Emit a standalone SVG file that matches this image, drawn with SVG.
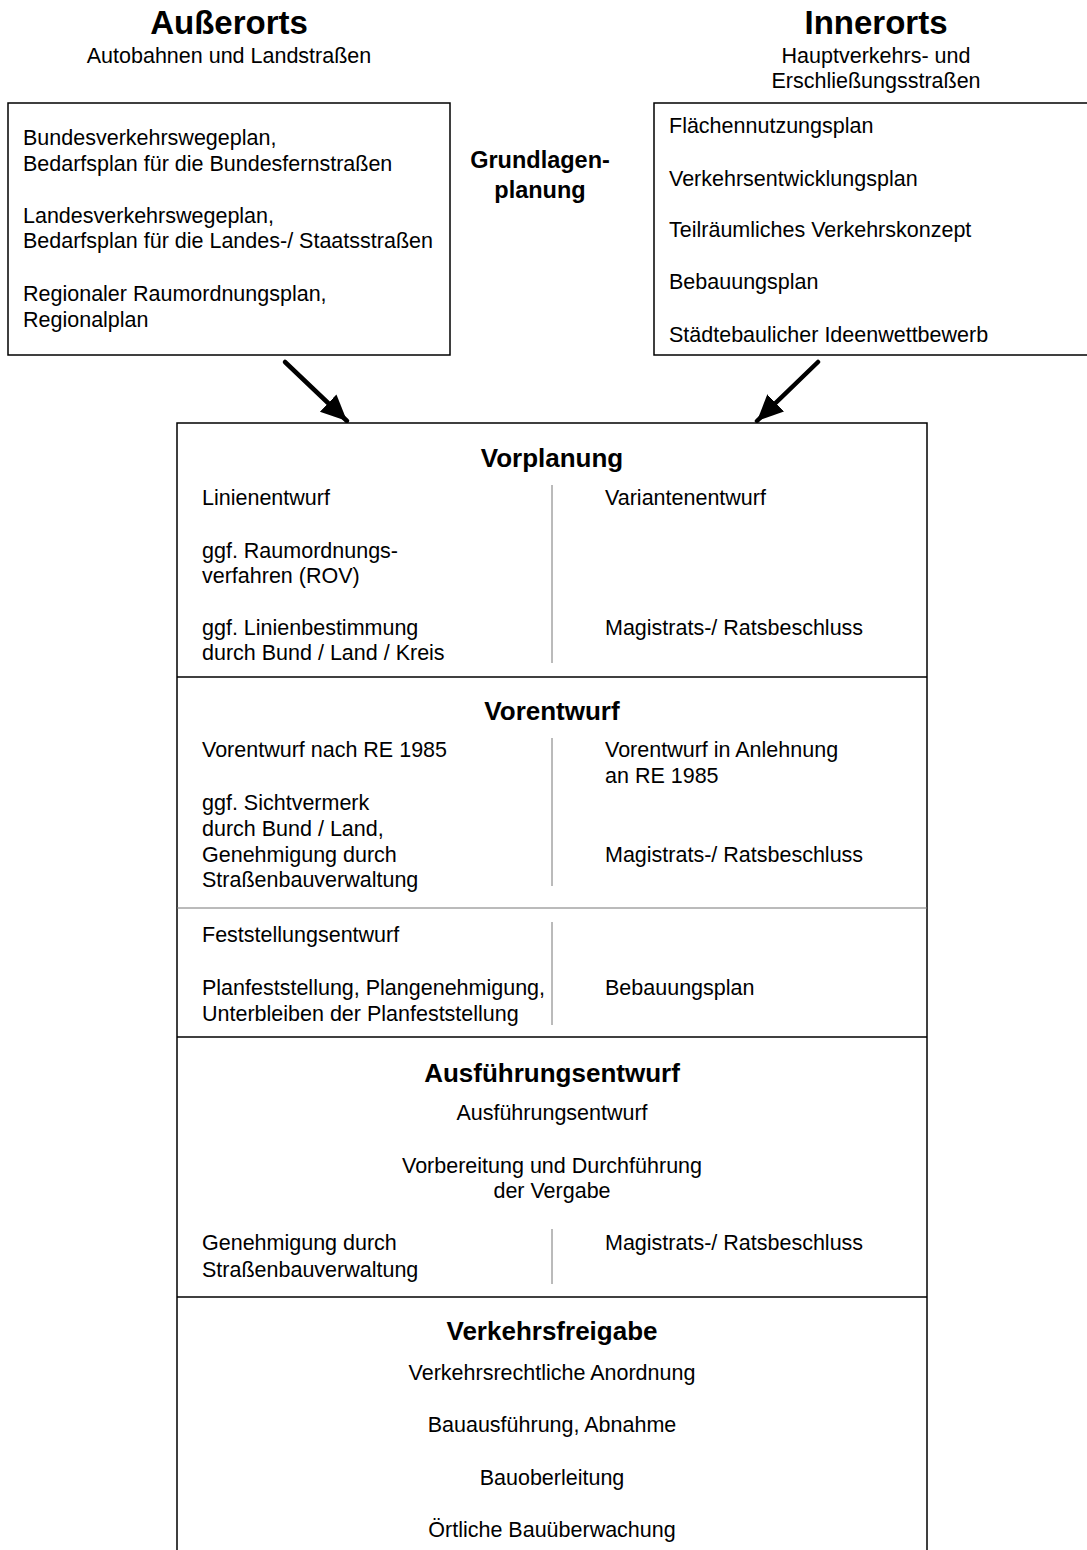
<svg xmlns="http://www.w3.org/2000/svg" width="1087" height="1550" viewBox="0 0 1087 1550">
  <style>
    text { font-family: "Liberation Sans", Arial, sans-serif; fill: #000; }
    .t { font-size: 21.5px; }
    .c { text-anchor: middle; }
    .h1 { font-size: 33px; font-weight: bold; text-anchor: middle; }
    .h2 { font-size: 26px; font-weight: bold; text-anchor: middle; }
    .h3 { font-size: 23.5px; font-weight: bold; text-anchor: middle; }
    .box { fill: #fff; stroke: #000; stroke-width: 1.5; }
    .sep { stroke: #000; stroke-width: 1.5; }
    .thin { stroke: #777; stroke-width: 1; }
    .arrow { stroke: #000; stroke-width: 4.5; fill: none; stroke-linecap: round; }
  </style>
  <defs>
    <marker id="head" markerUnits="userSpaceOnUse" markerWidth="28" markerHeight="26" refX="26" refY="13" orient="auto">
      <path d="M0,1 L26,13 L0,25 Z" fill="#000"/>
    </marker>
  </defs>
  <rect width="1087" height="1550" fill="#fff"/>

  <!-- Column headings -->
  <g id="head-aussen">
    <text class="h1" x="229" y="34">Außerorts</text>
    <text class="t c" x="229" y="63">Autobahnen und Landstraßen</text>
  </g>
  <g id="head-innen">
    <text class="h1" x="876" y="34">Innerorts</text>
    <text class="t c" x="876" y="63">Hauptverkehrs- und</text>
    <text class="t c" x="876" y="88">Erschließungsstraßen</text>
  </g>
  <g id="grundlagen">
    <text class="h3" x="540" y="168">Grundlagen-</text>
    <text class="h3" x="540" y="198">planung</text>
  </g>

  <!-- Basic planning, rural -->
  <g id="box-aussen">
    <rect class="box" x="8" y="103" width="442" height="252"/>
    <text class="t" x="23" y="145">Bundesverkehrswegeplan,</text>
    <text class="t" x="23" y="171">Bedarfsplan für die Bundesfernstraßen</text>
    <text class="t" x="23" y="223">Landesverkehrswegeplan,</text>
    <text class="t" x="23" y="248">Bedarfsplan für die Landes-/ Staatsstraßen</text>
    <text class="t" x="23" y="301">Regionaler Raumordnungsplan,</text>
    <text class="t" x="23" y="327">Regionalplan</text>
  </g>

  <!-- Basic planning, urban -->
  <g id="box-innen">
    <rect class="box" x="654" y="103" width="445" height="252"/>
    <text class="t" x="669" y="133">Flächennutzungsplan</text>
    <text class="t" x="669" y="186">Verkehrsentwicklungsplan</text>
    <text class="t" x="669" y="237">Teilräumliches Verkehrskonzept</text>
    <text class="t" x="669" y="289">Bebauungsplan</text>
    <text class="t" x="669" y="342">Städtebaulicher Ideenwettbewerb</text>
  </g>

  <!-- Connectors -->
  <g id="connectors">
    <line class="arrow" x1="285" y1="362" x2="347" y2="421" marker-end="url(#head)"/>
    <line class="arrow" x1="818" y1="362" x2="757" y2="421" marker-end="url(#head)"/>
  </g>

  <!-- Planning phases -->
  <g id="phases">
    <rect class="box" x="177" y="423" width="750" height="1140"/>
    <line class="sep" x1="177" y1="677" x2="927" y2="677"/>
    <line class="thin" x1="177" y1="908" x2="927" y2="908"/>
    <line class="sep" x1="177" y1="1037" x2="927" y2="1037"/>
    <line class="sep" x1="177" y1="1297" x2="927" y2="1297"/>
  </g>

  <g id="vorplanung">
    <text class="h2" x="552" y="467">Vorplanung</text>
    <line class="thin" x1="552" y1="485" x2="552" y2="663"/>
    <text class="t" x="202" y="505">Linienentwurf</text>
    <text class="t" x="202" y="558">ggf. Raumordnungs-</text>
    <text class="t" x="202" y="583">verfahren (ROV)</text>
    <text class="t" x="202" y="635">ggf. Linienbestimmung</text>
    <text class="t" x="202" y="660">durch Bund / Land / Kreis</text>
    <text class="t" x="605" y="505">Variantenentwurf</text>
    <text class="t" x="605" y="635">Magistrats-/ Ratsbeschluss</text>
  </g>

  <g id="vorentwurf">
    <text class="h2" x="552" y="720">Vorentwurf</text>
    <line class="thin" x1="552" y1="738" x2="552" y2="886"/>
    <text class="t" x="202" y="757">Vorentwurf nach RE 1985</text>
    <text class="t" x="202" y="810">ggf. Sichtvermerk</text>
    <text class="t" x="202" y="836">durch Bund / Land,</text>
    <text class="t" x="202" y="862">Genehmigung durch</text>
    <text class="t" x="202" y="887">Straßenbauverwaltung</text>
    <text class="t" x="605" y="757">Vorentwurf in Anlehnung</text>
    <text class="t" x="605" y="783">an RE 1985</text>
    <text class="t" x="605" y="862">Magistrats-/ Ratsbeschluss</text>
  </g>

  <g id="feststellung">
    <line class="thin" x1="552" y1="922" x2="552" y2="1025"/>
    <text class="t" x="202" y="942">Feststellungsentwurf</text>
    <text class="t" x="202" y="995">Planfeststellung, Plangenehmigung,</text>
    <text class="t" x="202" y="1021">Unterbleiben der Planfeststellung</text>
    <text class="t" x="605" y="995">Bebauungsplan</text>
  </g>

  <g id="ausfuehrung">
    <text class="h2" x="552" y="1082">Ausführungsentwurf</text>
    <text class="t c" x="552" y="1120">Ausführungsentwurf</text>
    <text class="t c" x="552" y="1173">Vorbereitung und Durchführung</text>
    <text class="t c" x="552" y="1198">der Vergabe</text>
    <line class="thin" x1="552" y1="1229" x2="552" y2="1284"/>
    <text class="t" x="202" y="1250">Genehmigung durch</text>
    <text class="t" x="202" y="1277">Straßenbauverwaltung</text>
    <text class="t" x="605" y="1250">Magistrats-/ Ratsbeschluss</text>
  </g>

  <g id="verkehrsfreigabe">
    <text class="h2" x="552" y="1340">Verkehrsfreigabe</text>
    <text class="t c" x="552" y="1380">Verkehrsrechtliche Anordnung</text>
    <text class="t c" x="552" y="1432">Bauausführung, Abnahme</text>
    <text class="t c" x="552" y="1485">Bauoberleitung</text>
    <text class="t c" x="552" y="1537">Örtliche Bauüberwachung</text>
  </g>
</svg>
